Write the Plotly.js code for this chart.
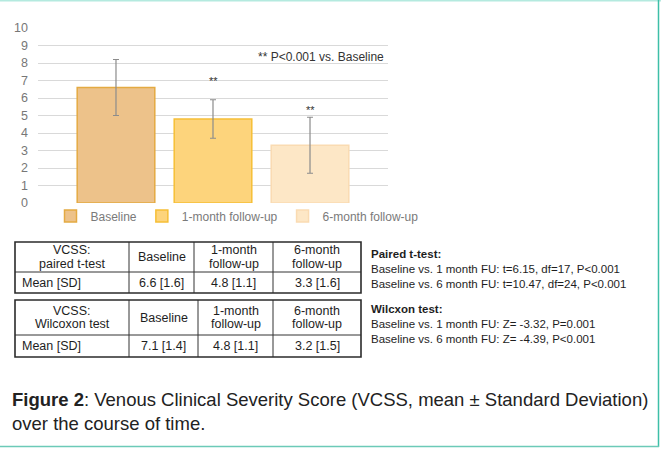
<!DOCTYPE html>
<html><head><meta charset="utf-8">
<script src="https://cdn.plot.ly/plotly-3.0.1.min.js"></script>
<style>html,body{margin:0;padding:0;background:#fff}#c{width:661px;height:451px}</style>
</head><body><div id="c"></div>
<script>
// ---- data ----
const categories = ['Baseline', '1-month follow-up', '6-month follow-up'];
const meanVCSS = [6.6, 4.8, 3.3];
const sdVCSS = [1.6, 1.1, 1.6];
const sigMarks = ['', '**', '**'];
const yTicks = [0,1,2,3,4,5,6,7,8,9,10];

const tHeader1 = [['VCSS:', 'paired t-test'], ['Baseline'], ['1-month', 'follow-up'], ['6-month', 'follow-up']];
const tMeans1 = [6.6, 4.8, 3.3];
const tSds1 = [1.6, 1.1, 1.6];
const tHeader2 = [['VCSS:', 'Wilcoxon test'], ['Baseline'], ['1-month', 'follow-up'], ['6-month', 'follow-up']];
const tMeans2 = [7.1, 4.8, 3.2];
const tSds2 = [1.4, 1.1, 1.5];
const rowLabel = 'Mean [SD]';

const pairedTitle = 'Paired t-test:';
const pairedLines = ['Baseline vs. 1 month FU: t=6.15, df=17, P<0.001', 'Baseline vs. 6 month FU: t=10.47, df=24, P<0.001'];
const wilcoxTitle = 'Wilcxon test:';
const wilcoxLines = ['Baseline vs. 1 month FU: Z= -3.32, P=0.001', 'Baseline vs. 6 month FU: Z= -4.39, P<0.001'];
const sigNote = '** P<0.001 vs. Baseline';
const caption = '<b>Figure 2</b>: Venous Clinical Severity Score (VCSS, mean ± Standard Deviation)<br>over the course of time.';

// ---- style ----
const W = 661, H = 451;
const px = v => v / W, py = v => 1 - v / H;
const FONT = 'Liberation Sans, Arial, sans-serif';
const barColors = ['#edc28a', '#fdd47c', '#fde7c6'];
const barLines = ['#e4aa42', '#f6bf36', '#fadbb2'];
const sigY = [0, 6.95, 5.3];

const traces = categories.map((c, i) => ({
  type: 'bar', name: c, x: [c], y: [meanVCSS[i]], width: 0.8,
  marker: {color: barColors[i], line: {color: barLines[i], width: 1.5}},
  error_y: {type: 'data', array: [sdVCSS[i]], visible: true, color: '#8c8c8c', thickness: 1.2, width: 3},
  hoverinfo: 'skip'
}));

const annotations = [];
const shapes = [];

// tables (grid + text built from the arrays)
function drawTable(header, means, sds, colW, x0, yTop, hh, ch) {
  const edges = [x0];
  colW.forEach(w => edges.push(edges[edges.length - 1] + w));
  const yMid = yTop + hh, yBot = yTop + hh + ch;
  for (let k = 1; k < edges.length - 1; k++)
    shapes.push({type: 'line', xref: 'paper', yref: 'paper', x0: px(edges[k]), x1: px(edges[k]), y0: py(yTop), y1: py(yBot), line: {color: '#333', width: 1}});
  shapes.push({type: 'line', xref: 'paper', yref: 'paper', x0: px(edges[0]), x1: px(edges[edges.length - 1]), y0: py(yMid), y1: py(yMid), line: {color: '#333', width: 1}});
  shapes.push({type: 'rect', xref: 'paper', yref: 'paper', x0: px(edges[0]), x1: px(edges[edges.length - 1]), y0: py(yTop), y1: py(yBot), line: {color: '#2b2b2b', width: 1.6}});
  const f = {family: FONT, size: 12.5, color: '#1e1e1e'};
  header.forEach((lines, k) => {
    const cx = (edges[k] + edges[k + 1]) / 2;
    const cy = yTop + hh / 2;
    lines.forEach((t, j) => {
      const yy = cy + (j - (lines.length - 1) / 2) * 13.5;
      annotations.push({xref: 'paper', yref: 'paper', x: px(cx), y: py(yy), xanchor: 'center', yanchor: 'middle', text: t, showarrow: false, font: f, borderpad: 0});
    });
  });
  const cells = [rowLabel].concat(means.map((m, i) => m.toFixed(1) + ' [' + sds[i].toFixed(1) + ']'));
  cells.forEach((t, k) => {
    const left = k === 0;
    const xx = left ? edges[0] + 5 : (edges[k] + edges[k + 1]) / 2;
    annotations.push({xref: 'paper', yref: 'paper', x: px(xx), y: py(yMid + ch / 2), xanchor: left ? 'left' : 'center', yanchor: 'middle', text: t, showarrow: false, font: f});
  });
}
drawTable(tHeader1, tMeans1, tSds1, [114, 65, 79, 88], 15, 242, 30, 21);
drawTable(tHeader2, tMeans2, tSds2, [114, 69, 75, 88], 15, 300, 35, 22);

sigMarks.forEach((s, i) => { if (s) annotations.push({xref: 'x', yref: 'y', x: categories[i], y: sigY[i], text: s, showarrow: false, font: {family: FONT, size: 11, color: '#333'}}); });
annotations.push({xref: 'paper', yref: 'paper', x: px(386), y: py(57), xanchor: 'right', yanchor: 'middle', text: sigNote, showarrow: false, font: {family: FONT, size: 12, color: '#333'}});
function textBlock(title, lines, x, yc) {
  annotations.push({xref: 'paper', yref: 'paper', x: px(x), y: py(yc), xanchor: 'left', yanchor: 'middle', align: 'left',
    text: ['<b>' + title + '</b>'].concat(lines).join('<br>'), showarrow: false,
    font: {family: FONT, size: 11.5, color: '#1e1e1e'}});
}
textBlock(pairedTitle, pairedLines, 369, 269);
textBlock(wilcoxTitle, wilcoxLines, 369, 323.5);
annotations.push({xref: 'paper', yref: 'paper', x: px(10), y: py(411.5), xanchor: 'left', yanchor: 'middle', align: 'left', text: caption, showarrow: false, font: {family: FONT, size: 18.5, color: '#222'}});

// frame
shapes.push({type: 'line', xref: 'paper', yref: 'paper', x0: 0, x1: 1, y0: py(0.5), y1: py(0.5), line: {color: '#b4eadf', width: 2}});
shapes.push({type: 'line', xref: 'paper', yref: 'paper', x0: px(658.5), x1: px(658.5), y0: py(0), y1: py(447), line: {color: '#3dbfa8', width: 1.5}});
shapes.push({type: 'line', xref: 'paper', yref: 'paper', x0: 0, x1: px(659), y0: py(446.5), y1: py(446.5), line: {color: '#6ccab8', width: 1.5}});

const layout = {
  width: W, height: H, autosize: false,
  margin: {l: 0, r: 0, t: 0, b: 0, pad: 0},
  paper_bgcolor: '#fff', plot_bgcolor: '#fff',
  font: {family: FONT},
  barmode: 'overlay', showlegend: true,
  xaxis: {type: 'category', categoryarray: categories, range: [-0.804, 2.804], domain: [px(38), px(388)],
    showticklabels: false, showgrid: false, zeroline: false, showline: false, ticks: ''},
  yaxis: {range: [0, 10], domain: [py(203), py(28)], tickvals: yTicks, ticks: '', ticklabelstandoff: 9,
    showgrid: true, gridcolor: '#d9d9d9', gridwidth: 1, zeroline: false, showline: false,
    tickfont: {family: FONT, size: 12.5, color: '#777'}},
  legend: {orientation: 'h', x: px(237), xanchor: 'center', y: py(216), yanchor: 'middle',
    font: {family: FONT, size: 12, color: '#7a7a7a'}, itemwidth: 30, bgcolor: 'rgba(0,0,0,0)', traceorder: 'normal'},
  annotations: annotations, shapes: shapes
};
Plotly.newPlot('c', traces, layout, {displayModeBar: false, staticPlot: true});
</script></body></html>
